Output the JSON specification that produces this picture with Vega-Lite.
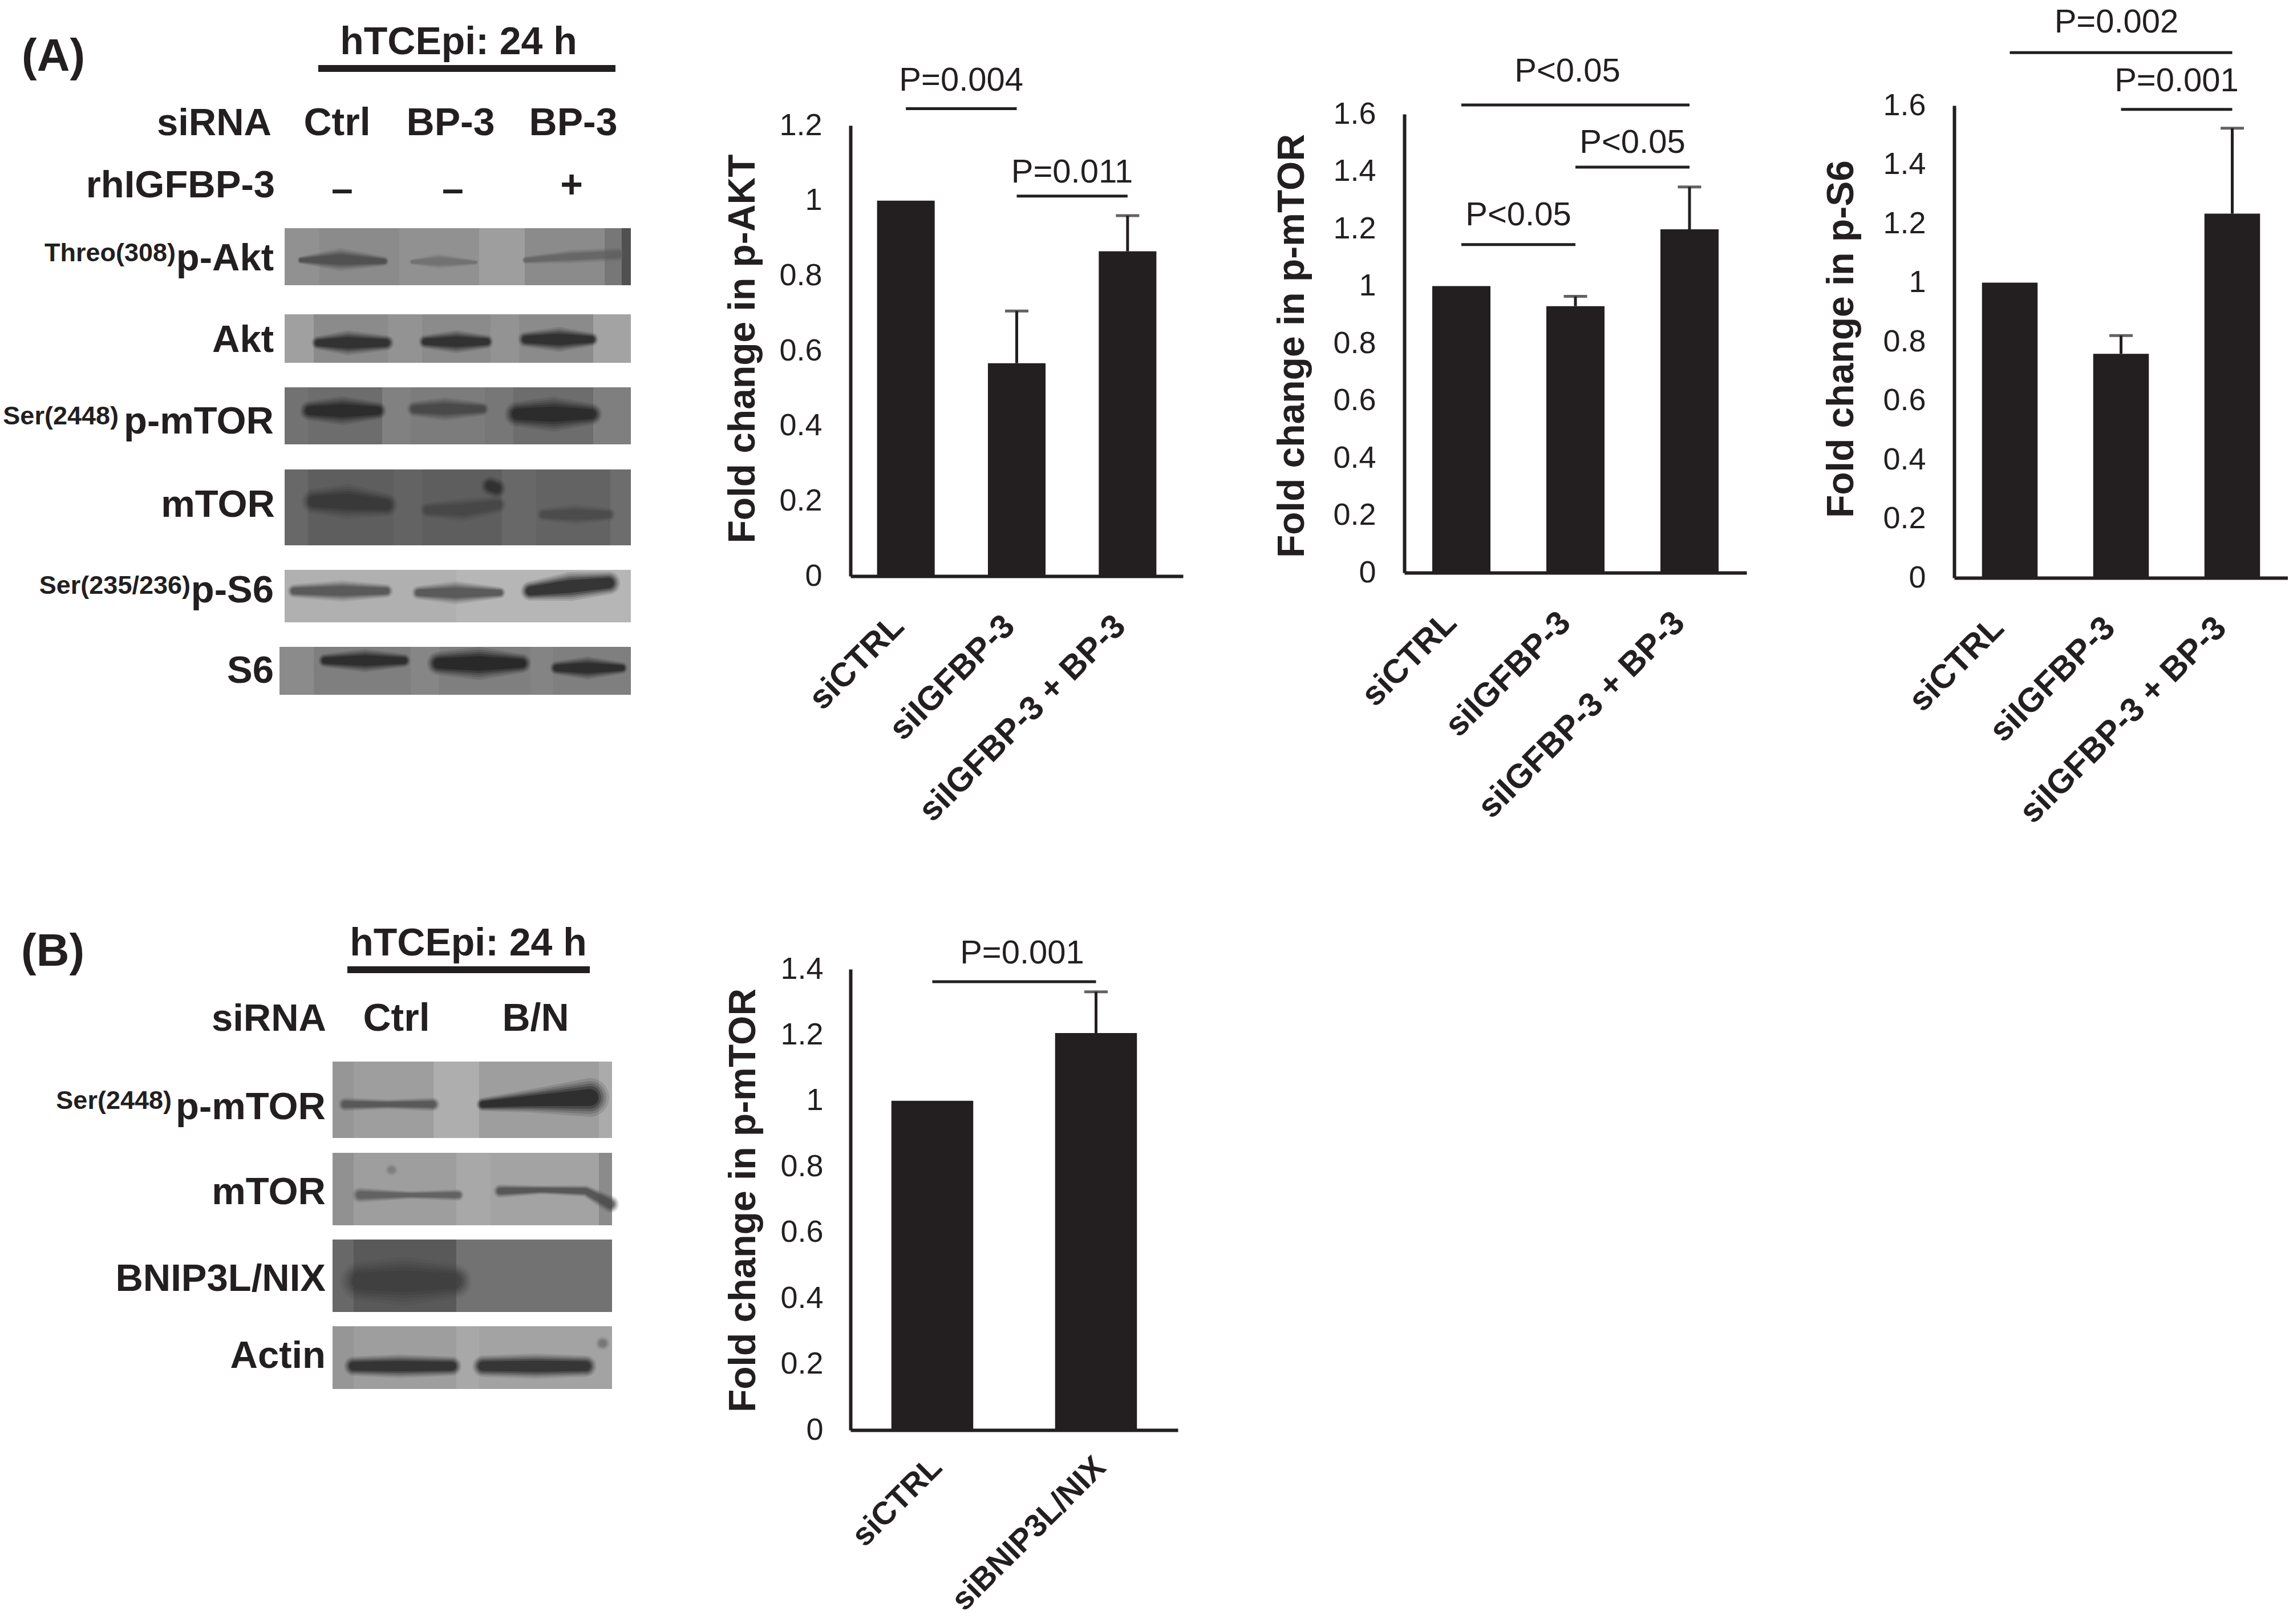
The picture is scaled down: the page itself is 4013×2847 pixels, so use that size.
{"$schema":"https://vega.github.io/schema/vega-lite/v6.json","padding":0,"background":"white","bounds":"flush","columns":4,"spacing":{"row":100,"column":364},"config":{"font":"Liberation Sans","view":{"stroke":null},"axis":{"grid":false,"ticks":false,"domainColor":"#231f20","domainWidth":6,"labelColor":"#231f20","titleColor":"#231f20","labelOverlap":false,"labelBound":false,"labelFlush":false,"labelLimit":2000,"titleLimit":2000}},
"datasets":{
"stripsA":[{"a":49.9,"b":56,"t":40,"e":50,"d":0.4},{"a":56,"b":70,"t":40,"e":50,"d":0.42},{"a":70,"b":84,"t":40,"e":50,"d":0.4},{"a":84,"b":92,"t":40,"e":50,"d":0.35},{"a":92,"b":106,"t":40,"e":50,"d":0.42},{"a":106,"b":109,"t":40,"e":50,"d":0.5},{"a":109,"b":110.6,"t":40,"e":50,"d":0.66},
{"a":49.9,"b":55,"t":55.1,"e":63.6,"d":0.34},{"a":55,"b":68,"t":55.1,"e":63.6,"d":0.42},{"a":68,"b":74,"t":55.1,"e":63.6,"d":0.39},{"a":74,"b":86,"t":55.1,"e":63.6,"d":0.42},{"a":86,"b":91,"t":55.1,"e":63.6,"d":0.39},{"a":91,"b":104,"t":55.1,"e":63.6,"d":0.42},{"a":104,"b":110.6,"t":55.1,"e":63.6,"d":0.33},
{"a":49.9,"b":54,"t":67.9,"e":77.9,"d":0.52},{"a":54,"b":67,"t":67.9,"e":77.9,"d":0.54},{"a":67,"b":72,"t":67.9,"e":77.9,"d":0.46},{"a":72,"b":85,"t":67.9,"e":77.9,"d":0.48},{"a":85,"b":90,"t":67.9,"e":77.9,"d":0.5},{"a":90,"b":104,"t":67.9,"e":77.9,"d":0.54},{"a":104,"b":110.6,"t":67.9,"e":77.9,"d":0.47},
{"a":49.9,"b":54,"t":82.3,"e":95.6,"d":0.56},{"a":54,"b":69,"t":82.3,"e":95.6,"d":0.6},{"a":69,"b":74,"t":82.3,"e":95.6,"d":0.58},{"a":74,"b":88,"t":82.3,"e":95.6,"d":0.6},{"a":88,"b":94,"t":82.3,"e":95.6,"d":0.56},{"a":94,"b":107,"t":82.3,"e":95.6,"d":0.58},{"a":107,"b":110.6,"t":82.3,"e":95.6,"d":0.54},
{"a":49.9,"b":80,"t":99.9,"e":109.1,"d":0.28},{"a":80,"b":110.6,"t":99.9,"e":109.1,"d":0.26},
{"a":49,"b":55,"t":113.4,"e":121.8,"d":0.42},{"a":55,"b":72,"t":113.4,"e":121.8,"d":0.47},{"a":72,"b":77,"t":113.4,"e":121.8,"d":0.44},{"a":77,"b":93,"t":113.4,"e":121.8,"d":0.47},{"a":93,"b":97,"t":113.4,"e":121.8,"d":0.45},{"a":97,"b":110.6,"t":113.4,"e":121.8,"d":0.47}],
"bandsA":[{"k":"a1","x":52.8,"y":45.6,"w":8,"d":0.72},{"k":"a1","x":59.7,"y":45.5,"w":24,"d":0.72},{"k":"a1","x":67.3,"y":45.8,"w":10,"d":0.72},
{"k":"a2","x":72.3,"y":45.9,"w":6,"d":0.55},{"k":"a2","x":77,"y":45.8,"w":16,"d":0.55},{"k":"a2","x":83.4,"y":46,"w":5,"d":0.55},
{"k":"a3","x":92.2,"y":45.6,"w":8,"d":0.6},{"k":"a3","x":100,"y":45,"w":14,"d":0.6},{"k":"a3","x":108.4,"y":44.6,"w":14,"d":0.6},
{"k":"a4","x":55.8,"y":60.1,"w":14,"d":0.9},{"k":"a4","x":61,"y":60.1,"w":26,"d":0.9},{"k":"a4","x":67.7,"y":60.1,"w":16,"d":0.9},
{"k":"a5","x":74.6,"y":59.9,"w":14,"d":0.9},{"k":"a5","x":80,"y":59.9,"w":24,"d":0.9},{"k":"a5","x":85.3,"y":59.9,"w":14,"d":0.9},
{"k":"a6","x":92.2,"y":59.5,"w":16,"d":0.92},{"k":"a6","x":98,"y":59.5,"w":26,"d":0.92},{"k":"a6","x":103.7,"y":59.5,"w":14,"d":0.92},
{"k":"a7","x":54.3,"y":72,"w":20,"d":0.9},{"k":"a7","x":60,"y":72,"w":30,"d":0.9},{"k":"a7","x":66.2,"y":72,"w":18,"d":0.9},
{"k":"a8","x":72.7,"y":71.7,"w":16,"d":0.75},{"k":"a8","x":78,"y":71.7,"w":24,"d":0.75},{"k":"a8","x":84.5,"y":71.7,"w":14,"d":0.75},
{"k":"a9","x":90.7,"y":72.6,"w":26,"d":0.9},{"k":"a9","x":97,"y":72.6,"w":36,"d":0.9},{"k":"a9","x":103.7,"y":72.6,"w":22,"d":0.9},
{"k":"a10","x":55.1,"y":87.9,"w":26,"d":0.8},{"k":"a10","x":61,"y":87.9,"w":36,"d":0.8},{"k":"a10","x":67.7,"y":88.5,"w":24,"d":0.8},
{"k":"a11","x":75,"y":89.4,"w":16,"d":0.72},{"k":"a11","x":81,"y":89.4,"w":24,"d":0.72},{"k":"a11","x":87.2,"y":88.5,"w":18,"d":0.72},
{"k":"a12","x":86,"y":85.2,"w":20,"d":0.85},{"k":"a12","x":87,"y":85.6,"w":20,"d":0.85},
{"k":"a13","x":95.3,"y":90.2,"w":14,"d":0.7},{"k":"a13","x":101,"y":90.2,"w":22,"d":0.7},{"k":"a13","x":106.7,"y":90.2,"w":14,"d":0.7},
{"k":"a14","x":51.6,"y":103.6,"w":14,"d":0.72},{"k":"a14","x":60,"y":103.6,"w":22,"d":0.72},{"k":"a14","x":67.7,"y":103.6,"w":14,"d":0.72},
{"k":"a15","x":73.4,"y":103.9,"w":14,"d":0.72},{"k":"a15","x":80,"y":103.9,"w":24,"d":0.72},{"k":"a15","x":87.6,"y":103.9,"w":12,"d":0.72},
{"k":"a16","x":93,"y":103.6,"w":20,"d":0.95},{"k":"a16","x":100,"y":102.8,"w":30,"d":0.95},{"k":"a16","x":106.7,"y":102.2,"w":24,"d":0.95},
{"k":"a17","x":57,"y":115.8,"w":14,"d":0.92},{"k":"a17","x":64,"y":115.8,"w":24,"d":0.92},{"k":"a17","x":70.8,"y":115.8,"w":14,"d":0.92},
{"k":"a18","x":76.9,"y":116.3,"w":24,"d":0.95},{"k":"a18","x":84,"y":116.3,"w":34,"d":0.95},{"k":"a18","x":91.4,"y":116.3,"w":20,"d":0.95},
{"k":"a19","x":97.6,"y":117.1,"w":14,"d":0.92},{"k":"a19","x":103,"y":117.1,"w":24,"d":0.92},{"k":"a19","x":109,"y":117.1,"w":12,"d":0.92}],
"stripsB":[{"a":58.3,"b":62,"t":26.1,"e":39.5,"d":0.38},{"a":62,"b":76,"t":26.1,"e":39.5,"d":0.35},{"a":76,"b":84,"t":26.1,"e":39.5,"d":0.29},{"a":84,"b":105,"t":26.1,"e":39.5,"d":0.35},{"a":105,"b":107.3,"t":26.1,"e":39.5,"d":0.3},
{"a":58.3,"b":62,"t":42.1,"e":54.8,"d":0.4},{"a":62,"b":80,"t":42.1,"e":54.8,"d":0.35},{"a":80,"b":86,"t":42.1,"e":54.8,"d":0.31},{"a":86,"b":105,"t":42.1,"e":54.8,"d":0.33},{"a":105,"b":107.3,"t":42.1,"e":54.8,"d":0.42},
{"a":58.3,"b":62,"t":57.3,"e":70,"d":0.56},{"a":62,"b":80,"t":57.3,"e":70,"d":0.62},{"a":80,"b":85,"t":57.3,"e":70,"d":0.52},{"a":85,"b":107.3,"t":57.3,"e":70,"d":0.52},
{"a":58.3,"b":62,"t":72.5,"e":83.5,"d":0.38},{"a":62,"b":80,"t":72.5,"e":83.5,"d":0.35},{"a":80,"b":84,"t":72.5,"e":83.5,"d":0.31},{"a":84,"b":107.3,"t":72.5,"e":83.5,"d":0.33}],
"bandsB":[{"k":"b1","x":60.5,"y":33.6,"w":14,"d":0.7},{"k":"b1","x":68,"y":33.6,"w":10,"d":0.7},{"k":"b1","x":75.9,"y":33.6,"w":14,"d":0.7},
{"k":"b2","x":84.7,"y":33.6,"w":14,"d":0.95},{"k":"b2","x":93,"y":33,"w":24,"d":0.95},{"k":"b2","x":103.4,"y":32.4,"w":40,"d":0.95},
{"k":"b3","x":63.1,"y":49.5,"w":16,"d":0.65},{"k":"b3","x":72,"y":49.5,"w":8,"d":0.65},{"k":"b3","x":80.3,"y":49.5,"w":12,"d":0.65},
{"k":"b4","x":87.7,"y":48.8,"w":14,"d":0.72},{"k":"b4","x":95,"y":48.6,"w":9,"d":0.72},{"k":"b4","x":102.7,"y":48.8,"w":12,"d":0.72},{"k":"b4","x":107,"y":51.1,"w":18,"d":0.72},
{"k":"b5","x":68.6,"y":45.1,"w":12,"d":0.5},{"k":"b5","x":68.7,"y":45.1,"w":12,"d":0.5},
{"k":"b6","x":63.1,"y":64.6,"w":40,"d":0.76},{"k":"b6","x":71,"y":64.6,"w":50,"d":0.76},{"k":"b6","x":79.6,"y":64.6,"w":36,"d":0.76},
{"k":"b7","x":62,"y":79.5,"w":20,"d":0.92},{"k":"b7","x":70,"y":79.5,"w":24,"d":0.92},{"k":"b7","x":79.2,"y":79.5,"w":20,"d":0.92},
{"k":"b8","x":84.7,"y":79.5,"w":22,"d":0.92},{"k":"b8","x":94,"y":79.5,"w":26,"d":0.92},{"k":"b8","x":102.7,"y":79.5,"w":22,"d":0.92},
{"k":"b9","x":105.6,"y":75.5,"w":14,"d":0.55},{"k":"b9","x":105.7,"y":75.5,"w":14,"d":0.55}]
},
"concat":[
{"width":1127,"height":1500,"layer":[
{"data":{"name":"stripsA"},"mark":{"type":"rect"},"encoding":{"x":{"field":"a","type":"quantitative","axis":null,"scale":{"domain":[0,112.7],"range":[0,1127],"nice":false,"zero":false}},"x2":{"field":"b"},"y":{"field":"t","type":"quantitative","axis":null,"scale":{"domain":[0,150],"range":[0,1500],"nice":false,"zero":false}},"y2":{"field":"e"},"color":{"field":"d","type":"quantitative","legend":null,"scale":{"domain":[0,1],"range":["#ffffff","#000000"]}}}},
{"data":{"name":"bandsA"},"layer":[
{"mark":{"type":"trail","opacity":0.12},"encoding":{"size":{"field":"w","type":"quantitative","legend":null,"scale":{"domain":[0,100],"range":[0,170]}}}},
{"mark":{"type":"trail","opacity":0.16},"encoding":{"size":{"field":"w","type":"quantitative","legend":null,"scale":{"domain":[0,100],"range":[0,145]}}}},
{"mark":{"type":"trail","opacity":0.22},"encoding":{"size":{"field":"w","type":"quantitative","legend":null,"scale":{"domain":[0,100],"range":[0,122]}}}},
{"mark":{"type":"trail","opacity":0.3},"encoding":{"size":{"field":"w","type":"quantitative","legend":null,"scale":{"domain":[0,100],"range":[0,100]}}}},
{"mark":{"type":"trail","opacity":0.45},"encoding":{"size":{"field":"w","type":"quantitative","legend":null,"scale":{"domain":[0,100],"range":[0,75]}}}}
],"encoding":{"x":{"field":"x","type":"quantitative"},"y":{"field":"y","type":"quantitative"},"detail":{"field":"k"},"color":{"field":"d","type":"quantitative"}},"resolve":{"scale":{"size":"independent"}}},
{"data":{"values":[{"a":55.8,"b":107.9,"y":12}]},"mark":{"type":"rule","strokeWidth":12,"color":"#231f20"},"encoding":{"x":{"field":"a","type":"quantitative"},"x2":{"field":"b"},"y":{"field":"y","type":"quantitative"}}},
{"data":{"values":[{"t":"hTCEpi: 24 h","x":80.4,"y":7.5},{"t":"Ctrl","x":59.1,"y":21.7},{"t":"BP-3","x":79,"y":21.7},{"t":"BP-3","x":100.5,"y":21.7},{"t":"–","x":60,"y":33.4},{"t":"–","x":79.4,"y":33.4},{"t":"+","x":100.2,"y":32.6}]},"mark":{"type":"text","fontSize":68,"fontWeight":"bold","align":"center","baseline":"middle","color":"#231f20"},"encoding":{"x":{"field":"x","type":"quantitative"},"y":{"field":"y","type":"quantitative"},"text":{"field":"t"}}},
{"data":{"values":[{"t":"siRNA","x":47.6,"y":21.7},{"t":"rhIGFBP-3","x":48.2,"y":32.6},{"t":"p-Akt","x":48,"y":45.4},{"t":"Akt","x":48,"y":59.7},{"t":"p-mTOR","x":48,"y":74},{"t":"mTOR","x":48.2,"y":88.6},{"t":"p-S6","x":48,"y":103.6},{"t":"S6","x":48,"y":117.7}]},"mark":{"type":"text","fontSize":67,"fontWeight":"bold","align":"right","baseline":"middle","color":"#231f20"},"encoding":{"x":{"field":"x","type":"quantitative"},"y":{"field":"y","type":"quantitative"},"text":{"field":"t"}}},
{"data":{"values":[{"t":"Threo(308)","x":30.8,"y":44.4},{"t":"Ser(2448)","x":20.8,"y":73},{"t":"Ser(235/236)","x":33.4,"y":102.7}]},"mark":{"type":"text","fontSize":45,"fontWeight":"bold","align":"right","baseline":"middle","color":"#231f20"},"encoding":{"x":{"field":"x","type":"quantitative"},"y":{"field":"y","type":"quantitative"},"text":{"field":"t"}}},
{"data":{"values":[{"t":"(A)","x":3.8,"y":10}]},"mark":{"type":"text","fontSize":80,"fontWeight":"bold","align":"left","baseline":"middle","color":"#231f20"},"encoding":{"x":{"field":"x","type":"quantitative"},"y":{"field":"y","type":"quantitative"},"text":{"field":"t"}}}
]},
{"width":607,"height":1010,"layer":[
{"data":{"values":[{"g":"siCTRL","v":1,"u":1},{"g":"siIGFBP-3","v":0.567,"u":0.706},{"g":"siIGFBP-3 + BP-3","v":0.865,"u":0.96}]},"layer":[
{"mark":{"type":"bar","color":"#231f20"},"encoding":{"x":{"field":"g","type":"nominal","title":null,"scale":{"domain":["siCTRL","siIGFBP-3","siIGFBP-3 + BP-3"],"range":[0,583],"paddingInner":0.48,"paddingOuter":0.24},"axis":{"labelAngle":-45,"labelAlign":"right","labelBaseline":"middle","labelFontSize":59,"labelFontWeight":"bold","labelPadding":78,"labelOffset":-13}},"y":{"field":"v","type":"quantitative","scale":{"domain":[0,1.2],"range":[1010,220],"nice":false},"axis":{"values":[0,0.2,0.4,0.6,0.8,1,1.2],"format":"~g","labelFontSize":54,"labelPadding":50,"title":"Fold change in p-AKT","titleFontSize":66,"titleFontWeight":"bold","titleX":-189,"titleY":611,"titleAngle":-90,"titleAlign":"center","titleBaseline":"middle"}}}},
{"mark":{"type":"rule","strokeWidth":5,"color":"#231f20"},"encoding":{"x":{"field":"g","type":"nominal","scale":{"domain":["siCTRL","siIGFBP-3","siIGFBP-3 + BP-3"],"range":[0,583],"paddingInner":0.48,"paddingOuter":0.24}},"y":{"field":"v","type":"quantitative","scale":{"domain":[0,1.2],"range":[1010,220],"nice":false}},"y2":{"field":"u"}}},
{"transform":[{"filter":"datum.u > datum.v"}],"mark":{"type":"tick","size":41,"thickness":5,"color":"#231f20"},"encoding":{"x":{"field":"g","type":"nominal","scale":{"domain":["siCTRL","siIGFBP-3","siIGFBP-3 + BP-3"],"range":[0,583],"paddingInner":0.48,"paddingOuter":0.24}},"y":{"field":"u","type":"quantitative","scale":{"domain":[0,1.2],"range":[1010,220],"nice":false}}}}
]},
{"data":{"values":[{"from":"siCTRL","to":"siIGFBP-3","y":1.245,"ty":1.319,"t":"P=0.004"},{"from":"siIGFBP-3","to":"siIGFBP-3 + BP-3","y":1.012,"ty":1.074,"t":"P=0.011"}]},"layer":[
{"mark":{"type":"rule","strokeWidth":5,"color":"#231f20"},"encoding":{"x":{"field":"from","type":"nominal","scale":{"domain":["siCTRL","siIGFBP-3","siIGFBP-3 + BP-3"],"range":[0,583],"paddingInner":0.48,"paddingOuter":0.24}},"x2":{"field":"to"},"y":{"field":"y","type":"quantitative","scale":{"domain":[0,1.2],"range":[1010,220],"nice":false}}}},
{"mark":{"type":"text","fontSize":58,"color":"#231f20","align":"center","baseline":"middle"},"encoding":{"x":{"field":"from","type":"nominal","bandPosition":1.46,"scale":{"domain":["siCTRL","siIGFBP-3","siIGFBP-3 + BP-3"],"range":[0,583],"paddingInner":0.48,"paddingOuter":0.24}},"y":{"field":"ty","type":"quantitative","scale":{"domain":[0,1.2],"range":[1010,220],"nice":false}},"text":{"field":"t"}}}
]}
]},
{"width":600,"height":1004,"layer":[
{"data":{"values":[{"g":"siCTRL","v":1,"u":1},{"g":"siIGFBP-3","v":0.93,"u":0.964},{"g":"siIGFBP-3 + BP-3","v":1.198,"u":1.346}]},"layer":[
{"mark":{"type":"bar","color":"#231f20"},"encoding":{"x":{"field":"g","type":"nominal","title":null,"scale":{"domain":["siCTRL","siIGFBP-3","siIGFBP-3 + BP-3"],"range":[0,600],"paddingInner":0.49,"paddingOuter":0.245},"axis":{"labelAngle":-45,"labelAlign":"right","labelBaseline":"middle","labelFontSize":59,"labelFontWeight":"bold","labelPadding":78,"labelOffset":-18}},"y":{"field":"v","type":"quantitative","scale":{"domain":[0,1.6],"range":[1004,200],"nice":false},"axis":{"values":[0,0.2,0.4,0.6,0.8,1,1.2,1.4,1.6],"format":"~g","labelFontSize":54,"labelPadding":50,"title":"Fold change in p-mTOR","titleFontSize":66,"titleFontWeight":"bold","titleX":-197,"titleY":606,"titleAngle":-90,"titleAlign":"center","titleBaseline":"middle"}}}},
{"mark":{"type":"rule","strokeWidth":5,"color":"#231f20"},"encoding":{"x":{"field":"g","type":"nominal","scale":{"domain":["siCTRL","siIGFBP-3","siIGFBP-3 + BP-3"],"range":[0,600],"paddingInner":0.49,"paddingOuter":0.245}},"y":{"field":"v","type":"quantitative","scale":{"domain":[0,1.6],"range":[1004,200],"nice":false}},"y2":{"field":"u"}}},
{"transform":[{"filter":"datum.u > datum.v"}],"mark":{"type":"tick","size":41,"thickness":5,"color":"#231f20"},"encoding":{"x":{"field":"g","type":"nominal","scale":{"domain":["siCTRL","siIGFBP-3","siIGFBP-3 + BP-3"],"range":[0,600],"paddingInner":0.49,"paddingOuter":0.245}},"y":{"field":"u","type":"quantitative","scale":{"domain":[0,1.6],"range":[1004,200],"nice":false}}}}
]},
{"data":{"values":[{"from":"siCTRL","to":"siIGFBP-3 + BP-3","y":1.632},{"from":"siIGFBP-3","to":"siIGFBP-3 + BP-3","y":1.415,"ty":1.498,"t":"P<0.05"},{"from":"siCTRL","to":"siIGFBP-3","y":1.145,"ty":1.245,"t":"P<0.05"}]},"layer":[
{"mark":{"type":"rule","strokeWidth":5,"color":"#231f20"},"encoding":{"x":{"field":"from","type":"nominal","scale":{"domain":["siCTRL","siIGFBP-3","siIGFBP-3 + BP-3"],"range":[0,600],"paddingInner":0.49,"paddingOuter":0.245}},"x2":{"field":"to"},"y":{"field":"y","type":"quantitative","scale":{"domain":[0,1.6],"range":[1004,200],"nice":false}}}},
{"transform":[{"filter":"isValid(datum.t)"}],"mark":{"type":"text","fontSize":58,"color":"#231f20","align":"center","baseline":"middle"},"encoding":{"x":{"field":"from","type":"nominal","bandPosition":1.48,"scale":{"domain":["siCTRL","siIGFBP-3","siIGFBP-3 + BP-3"],"range":[0,600],"paddingInner":0.49,"paddingOuter":0.245}},"y":{"field":"ty","type":"quantitative","scale":{"domain":[0,1.6],"range":[1004,200],"nice":false}},"text":{"field":"t"}}}
]},
{"data":{"values":[{"at":"siIGFBP-3","ty":1.747,"t":"P<0.05"}]},"mark":{"type":"text","fontSize":58,"color":"#231f20","align":"center","baseline":"middle","dx":-14},"encoding":{"x":{"field":"at","type":"nominal","scale":{"domain":["siCTRL","siIGFBP-3","siIGFBP-3 + BP-3"],"range":[0,600],"paddingInner":0.49,"paddingOuter":0.245}},"y":{"field":"ty","type":"quantitative","scale":{"domain":[0,1.6],"range":[1004,200],"nice":false}},"text":{"field":"t"}}}
]},
{"width":585,"height":1013,"layer":[
{"data":{"values":[{"g":"siCTRL","v":1,"u":1},{"g":"siIGFBP-3","v":0.759,"u":0.821},{"g":"siIGFBP-3 + BP-3","v":1.234,"u":1.523}]},"layer":[
{"mark":{"type":"bar","color":"#231f20"},"encoding":{"x":{"field":"g","type":"nominal","title":null,"scale":{"domain":["siCTRL","siIGFBP-3","siIGFBP-3 + BP-3"],"range":[0,585],"paddingInner":0.5,"paddingOuter":0.25},"axis":{"labelAngle":-45,"labelAlign":"right","labelBaseline":"middle","labelFontSize":59,"labelFontWeight":"bold","labelPadding":78,"labelOffset":-20}},"y":{"field":"v","type":"quantitative","scale":{"domain":[0,1.6],"range":[1013,185],"nice":false},"axis":{"values":[0,0.2,0.4,0.6,0.8,1,1.2,1.4,1.6],"format":"~g","labelFontSize":54,"labelPadding":50,"title":"Fold change in p-S6","titleFontSize":66,"titleFontWeight":"bold","titleX":-198,"titleY":594,"titleAngle":-90,"titleAlign":"center","titleBaseline":"middle"}}}},
{"mark":{"type":"rule","strokeWidth":5,"color":"#231f20"},"encoding":{"x":{"field":"g","type":"nominal","scale":{"domain":["siCTRL","siIGFBP-3","siIGFBP-3 + BP-3"],"range":[0,585],"paddingInner":0.5,"paddingOuter":0.25}},"y":{"field":"v","type":"quantitative","scale":{"domain":[0,1.6],"range":[1013,185],"nice":false}},"y2":{"field":"u"}}},
{"transform":[{"filter":"datum.u > datum.v"}],"mark":{"type":"tick","size":41,"thickness":5,"color":"#231f20"},"encoding":{"x":{"field":"g","type":"nominal","scale":{"domain":["siCTRL","siIGFBP-3","siIGFBP-3 + BP-3"],"range":[0,585],"paddingInner":0.5,"paddingOuter":0.25}},"y":{"field":"u","type":"quantitative","scale":{"domain":[0,1.6],"range":[1013,185],"nice":false}}}}
]},
{"data":{"values":[{"from":"siCTRL","to":"siIGFBP-3 + BP-3","y":1.779},{"from":"siIGFBP-3","to":"siIGFBP-3 + BP-3","y":1.587,"ty":1.681,"t":"P=0.001"}]},"layer":[
{"mark":{"type":"rule","strokeWidth":5,"color":"#231f20"},"encoding":{"x":{"field":"from","type":"nominal","scale":{"domain":["siCTRL","siIGFBP-3","siIGFBP-3 + BP-3"],"range":[0,585],"paddingInner":0.5,"paddingOuter":0.25}},"x2":{"field":"to"},"y":{"field":"y","type":"quantitative","scale":{"domain":[0,1.6],"range":[1013,185],"nice":false}}}},
{"transform":[{"filter":"isValid(datum.t)"}],"mark":{"type":"text","fontSize":58,"color":"#231f20","align":"center","baseline":"middle"},"encoding":{"x":{"field":"from","type":"nominal","bandPosition":1.5,"scale":{"domain":["siCTRL","siIGFBP-3","siIGFBP-3 + BP-3"],"range":[0,585],"paddingInner":0.5,"paddingOuter":0.25}},"y":{"field":"ty","type":"quantitative","scale":{"domain":[0,1.6],"range":[1013,185],"nice":false}},"text":{"field":"t"}}}
]},
{"data":{"values":[{"at":"siIGFBP-3","ty":1.88,"t":"P=0.002"}]},"mark":{"type":"text","fontSize":58,"color":"#231f20","align":"center","baseline":"middle","dx":-8},"encoding":{"x":{"field":"at","type":"nominal","scale":{"domain":["siCTRL","siIGFBP-3","siIGFBP-3 + BP-3"],"range":[0,585],"paddingInner":0.5,"paddingOuter":0.25}},"y":{"field":"ty","type":"quantitative","scale":{"domain":[0,1.6],"range":[1013,185],"nice":false}},"text":{"field":"t"}}}
]},
{"width":1127,"height":1247,"layer":[
{"data":{"name":"stripsB"},"mark":{"type":"rect"},"encoding":{"x":{"field":"a","type":"quantitative","axis":null,"scale":{"domain":[0,112.7],"range":[0,1127],"nice":false,"zero":false}},"x2":{"field":"b"},"y":{"field":"t","type":"quantitative","axis":null,"scale":{"domain":[0,124.7],"range":[0,1247],"nice":false,"zero":false}},"y2":{"field":"e"},"color":{"field":"d","type":"quantitative","legend":null,"scale":{"domain":[0,1],"range":["#ffffff","#000000"]}}}},
{"data":{"name":"bandsB"},"layer":[
{"mark":{"type":"trail","opacity":0.12},"encoding":{"size":{"field":"w","type":"quantitative","legend":null,"scale":{"domain":[0,100],"range":[0,170]}}}},
{"mark":{"type":"trail","opacity":0.16},"encoding":{"size":{"field":"w","type":"quantitative","legend":null,"scale":{"domain":[0,100],"range":[0,145]}}}},
{"mark":{"type":"trail","opacity":0.22},"encoding":{"size":{"field":"w","type":"quantitative","legend":null,"scale":{"domain":[0,100],"range":[0,122]}}}},
{"mark":{"type":"trail","opacity":0.3},"encoding":{"size":{"field":"w","type":"quantitative","legend":null,"scale":{"domain":[0,100],"range":[0,100]}}}},
{"mark":{"type":"trail","opacity":0.45},"encoding":{"size":{"field":"w","type":"quantitative","legend":null,"scale":{"domain":[0,100],"range":[0,75]}}}}
],"encoding":{"x":{"field":"x","type":"quantitative"},"y":{"field":"y","type":"quantitative"},"detail":{"field":"k"},"color":{"field":"d","type":"quantitative"}},"resolve":{"scale":{"size":"independent"}}},
{"data":{"values":[{"a":60.9,"b":103.4,"y":10}]},"mark":{"type":"rule","strokeWidth":12,"color":"#231f20"},"encoding":{"x":{"field":"a","type":"quantitative"},"x2":{"field":"b"},"y":{"field":"y","type":"quantitative"}}},
{"data":{"values":[{"t":"hTCEpi: 24 h","x":82.1,"y":5.5},{"t":"Ctrl","x":69.5,"y":18.7},{"t":"B/N","x":93.9,"y":18.7}]},"mark":{"type":"text","fontSize":68,"fontWeight":"bold","align":"center","baseline":"middle","color":"#231f20"},"encoding":{"x":{"field":"x","type":"quantitative"},"y":{"field":"y","type":"quantitative"},"text":{"field":"t"}}},
{"data":{"values":[{"t":"siRNA","x":57.2,"y":18.7},{"t":"p-mTOR","x":57.1,"y":34.2},{"t":"mTOR","x":57.1,"y":49.1},{"t":"BNIP3L/NIX","x":57.1,"y":64.3},{"t":"Actin","x":57.1,"y":77.8}]},"mark":{"type":"text","fontSize":67,"fontWeight":"bold","align":"right","baseline":"middle","color":"#231f20"},"encoding":{"x":{"field":"x","type":"quantitative"},"y":{"field":"y","type":"quantitative"},"text":{"field":"t"}}},
{"data":{"values":[{"t":"Ser(2448)","x":30.1,"y":33}]},"mark":{"type":"text","fontSize":45,"fontWeight":"bold","align":"right","baseline":"middle","color":"#231f20"},"encoding":{"x":{"field":"x","type":"quantitative"},"y":{"field":"y","type":"quantitative"},"text":{"field":"t"}}},
{"data":{"values":[{"t":"(B)","x":3.7,"y":6.9}]},"mark":{"type":"text","fontSize":80,"fontWeight":"bold","align":"left","baseline":"middle","color":"#231f20"},"encoding":{"x":{"field":"x","type":"quantitative"},"y":{"field":"y","type":"quantitative"},"text":{"field":"t"}}}
]},
{"width":607,"height":907,"layer":[
{"data":{"values":[{"g":"siCTRL","v":1,"u":1},{"g":"siBNIP3L/NIX","v":1.206,"u":1.331}]},"layer":[
{"mark":{"type":"bar","color":"#231f20"},"encoding":{"x":{"field":"g","type":"nominal","title":null,"scale":{"domain":["siCTRL","siBNIP3L/NIX"],"range":[0,574],"paddingInner":0.5,"paddingOuter":0.25},"axis":{"labelAngle":-45,"labelAlign":"right","labelBaseline":"middle","labelFontSize":56,"labelFontWeight":"bold","labelPadding":56,"labelOffset":8}},"y":{"field":"v","type":"quantitative","scale":{"domain":[0,1.4],"range":[907,99],"nice":false},"axis":{"values":[0,0.2,0.4,0.6,0.8,1,1.2,1.4],"format":"~g","labelFontSize":54,"labelPadding":48,"title":"Fold change in p-mTOR","titleFontSize":66,"titleFontWeight":"bold","titleX":-188,"titleY":504,"titleAngle":-90,"titleAlign":"center","titleBaseline":"middle"}}}},
{"mark":{"type":"rule","strokeWidth":5,"color":"#231f20"},"encoding":{"x":{"field":"g","type":"nominal","scale":{"domain":["siCTRL","siBNIP3L/NIX"],"range":[0,574],"paddingInner":0.5,"paddingOuter":0.25}},"y":{"field":"v","type":"quantitative","scale":{"domain":[0,1.4],"range":[907,99],"nice":false}},"y2":{"field":"u"}}},
{"transform":[{"filter":"datum.u > datum.v"}],"mark":{"type":"tick","size":41,"thickness":5,"color":"#231f20"},"encoding":{"x":{"field":"g","type":"nominal","scale":{"domain":["siCTRL","siBNIP3L/NIX"],"range":[0,574],"paddingInner":0.5,"paddingOuter":0.25}},"y":{"field":"u","type":"quantitative","scale":{"domain":[0,1.4],"range":[907,99],"nice":false}}}}
]},
{"data":{"values":[{"from":"siCTRL","to":"siBNIP3L/NIX","y":1.362,"ty":1.447,"t":"P=0.001"}]},"layer":[
{"mark":{"type":"rule","strokeWidth":5,"color":"#231f20"},"encoding":{"x":{"field":"from","type":"nominal","scale":{"domain":["siCTRL","siBNIP3L/NIX"],"range":[0,574],"paddingInner":0.5,"paddingOuter":0.25}},"x2":{"field":"to"},"y":{"field":"y","type":"quantitative","scale":{"domain":[0,1.4],"range":[907,99],"nice":false}}}},
{"mark":{"type":"text","fontSize":58,"color":"#231f20","align":"center","baseline":"middle","dx":14},"encoding":{"x":{"field":"from","type":"nominal","bandPosition":1.5,"scale":{"domain":["siCTRL","siBNIP3L/NIX"],"range":[0,574],"paddingInner":0.5,"paddingOuter":0.25}},"y":{"field":"ty","type":"quantitative","scale":{"domain":[0,1.4],"range":[907,99],"nice":false}},"text":{"field":"t"}}}
]}
]}
]}
